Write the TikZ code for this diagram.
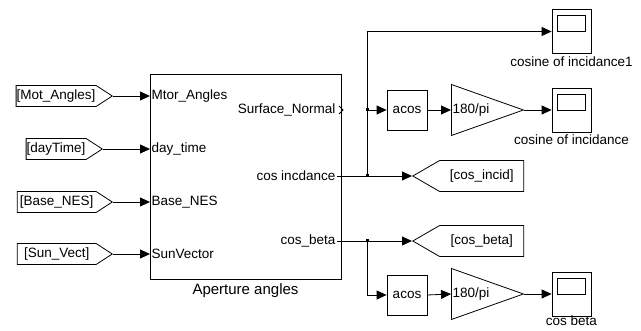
\documentclass[tikz,border=0pt]{standalone}
\usepackage{fontspec}
\setmainfont{Liberation Sans}
\usetikzlibrary{arrows.meta,positioning,shapes.geometric,shapes.symbols}
\newcommand{\lblfont}{\fontsize{13.5}{15}\selectfont}
\tikzset{
  sysbox/.style={draw, line width=0.8pt, minimum width=191pt, minimum height=205pt},
  portlbl/.style={inner sep=1.5pt, font=\lblfont},
  fromtag/.style={draw, line width=0.8pt, signal, signal to=east, signal pointer angle=66, minimum height=21pt, inner xsep=0.6pt, inner ysep=2pt, font=\lblfont},
  gototag/.style={draw, line width=0.8pt, signal, signal to=west, signal pointer angle=60, minimum height=31pt, minimum width=111pt, font=\lblfont},
  fnbox/.style={draw, line width=0.8pt, minimum size=40pt, font=\lblfont},
  gainbox/.style={draw, line width=0.8pt, isosceles triangle, isosceles triangle stretches, shape border rotate=0, minimum width=51pt, minimum height=72pt, inner sep=0pt},
  scopebox/.style={draw, line width=0.8pt, minimum width=39pt, minimum height=44pt,
    path picture={\draw[line width=0.8pt] ([shift={(5pt,-6pt)}]path picture bounding box.north west) rectangle ([shift={(-6pt,-22pt)}]path picture bounding box.north east);}},
  scopelbl/.style={inner sep=0.5pt, font=\lblfont},
  sig/.style={-{Triangle[length=10pt,width=9pt]}, line width=0.8pt},
  wire/.style={line width=0.8pt},
  dot/.style={fill, minimum size=3pt, inner sep=0pt}
}
\begin{document}
\begin{tikzpicture}[x=1pt, y=-1pt, node distance=2pt]
\useasboundingbox (0,0) rectangle (641,331);
\node[sysbox] (ap) at (245.5,176.5) {};
\node[below=1pt of ap, font=\fontsize{15}{17}\selectfont] (apname) {Aperture angles};

\node[portlbl, anchor=west] (pMot) at (150,96) {Mtor\_Angles};
\node[portlbl, anchor=west] (pDay) at (150,149) {day\_time};
\node[portlbl, anchor=west] (pBase) at (150,202) {Base\_NES};
\node[portlbl, anchor=west] (pSun) at (150,254) {SunVector};
\node[portlbl, anchor=east] (oSurf) at (337,110) {Surface\_Normal};
\node[portlbl, anchor=east] (oInc) at (337,176) {cos incdance};
\node[portlbl, anchor=east] (oBeta) at (337,241) {cos\_beta};
\draw[wire] ([shift={(2pt,4pt)}]oSurf.east) -- ([shift={(6pt,0pt)}]oSurf.east) -- ([shift={(2pt,-4pt)}]oSurf.east);

\node[fromtag, minimum width=86pt, anchor=east] (tMot) at (113,96) {[Mot\_Angles]};
\node[fromtag, anchor=east] (tDay) at (103,149) {[dayTime]};
\node[fromtag, minimum width=95pt, anchor=east] (tBase) at (113,202) {[Base\_NES]};
\node[fromtag, minimum width=95pt, anchor=east] (tSun) at (113,254) {[Sun\_Vect]};

\draw[sig] (tMot.east) -- (pMot.west);
\draw[sig] (tDay.east) -- (pDay.west);
\draw[sig] (tBase.east) -- (pBase.west);
\draw[sig] (tSun.east) -- (pSun.west);

\node[gototag, anchor=west] (gInc) at (412,176) {[cos\_incid]};
\node[gototag, anchor=west] (gBeta) at (412,241) {[cos\_beta]};

\node[fnbox] (acs1) at (407,110) {acos};
\node[fnbox] (acs2) at (407,295) {acos};
\node[gainbox, anchor=west, label={[portlbl, anchor=west]west:180/pi}] (gn1) at (451,110) {};
\node[gainbox, anchor=west, label={[portlbl, anchor=west]west:180/pi}] (gn2) at (451,294) {};

\node[scopebox] (sc1) at (571.5,31.5) {};
\node[scopebox] (sc2) at (571.5,110) {};
\node[scopebox] (sc3) at (571.5,294) {};
\node[scopelbl, below=of sc1] (lsc1) {cosine of incidance1};
\node[scopelbl, below=of sc2] (lsc2) {cosine of incidance};
\node[scopelbl, below=-1pt of sc3] (lsc3) {cos beta};

\node[dot] (jSurf) at (367,110) {};
\node[dot] (jInc) at (367,176) {};
\node[dot] (jBeta) at (367,241) {};

\draw[sig] (oInc.east) -- (gInc.west);
\draw[sig] (jInc.center) |- (sc1.west);
\draw[sig] (jSurf.center) -- (acs1.west);
\draw[sig] (acs1.east) -- (gn1.west);
\draw[sig] (gn1.east) -- (sc2.west);

\draw[sig] (oBeta.east) -- (gBeta.west);
\draw[sig] (jBeta.center) |- (acs2.west);
\draw[sig] (acs2.east) -- (gn2.west);
\draw[sig] (gn2.east) -- (sc3.west);
\end{tikzpicture}
\end{document}
